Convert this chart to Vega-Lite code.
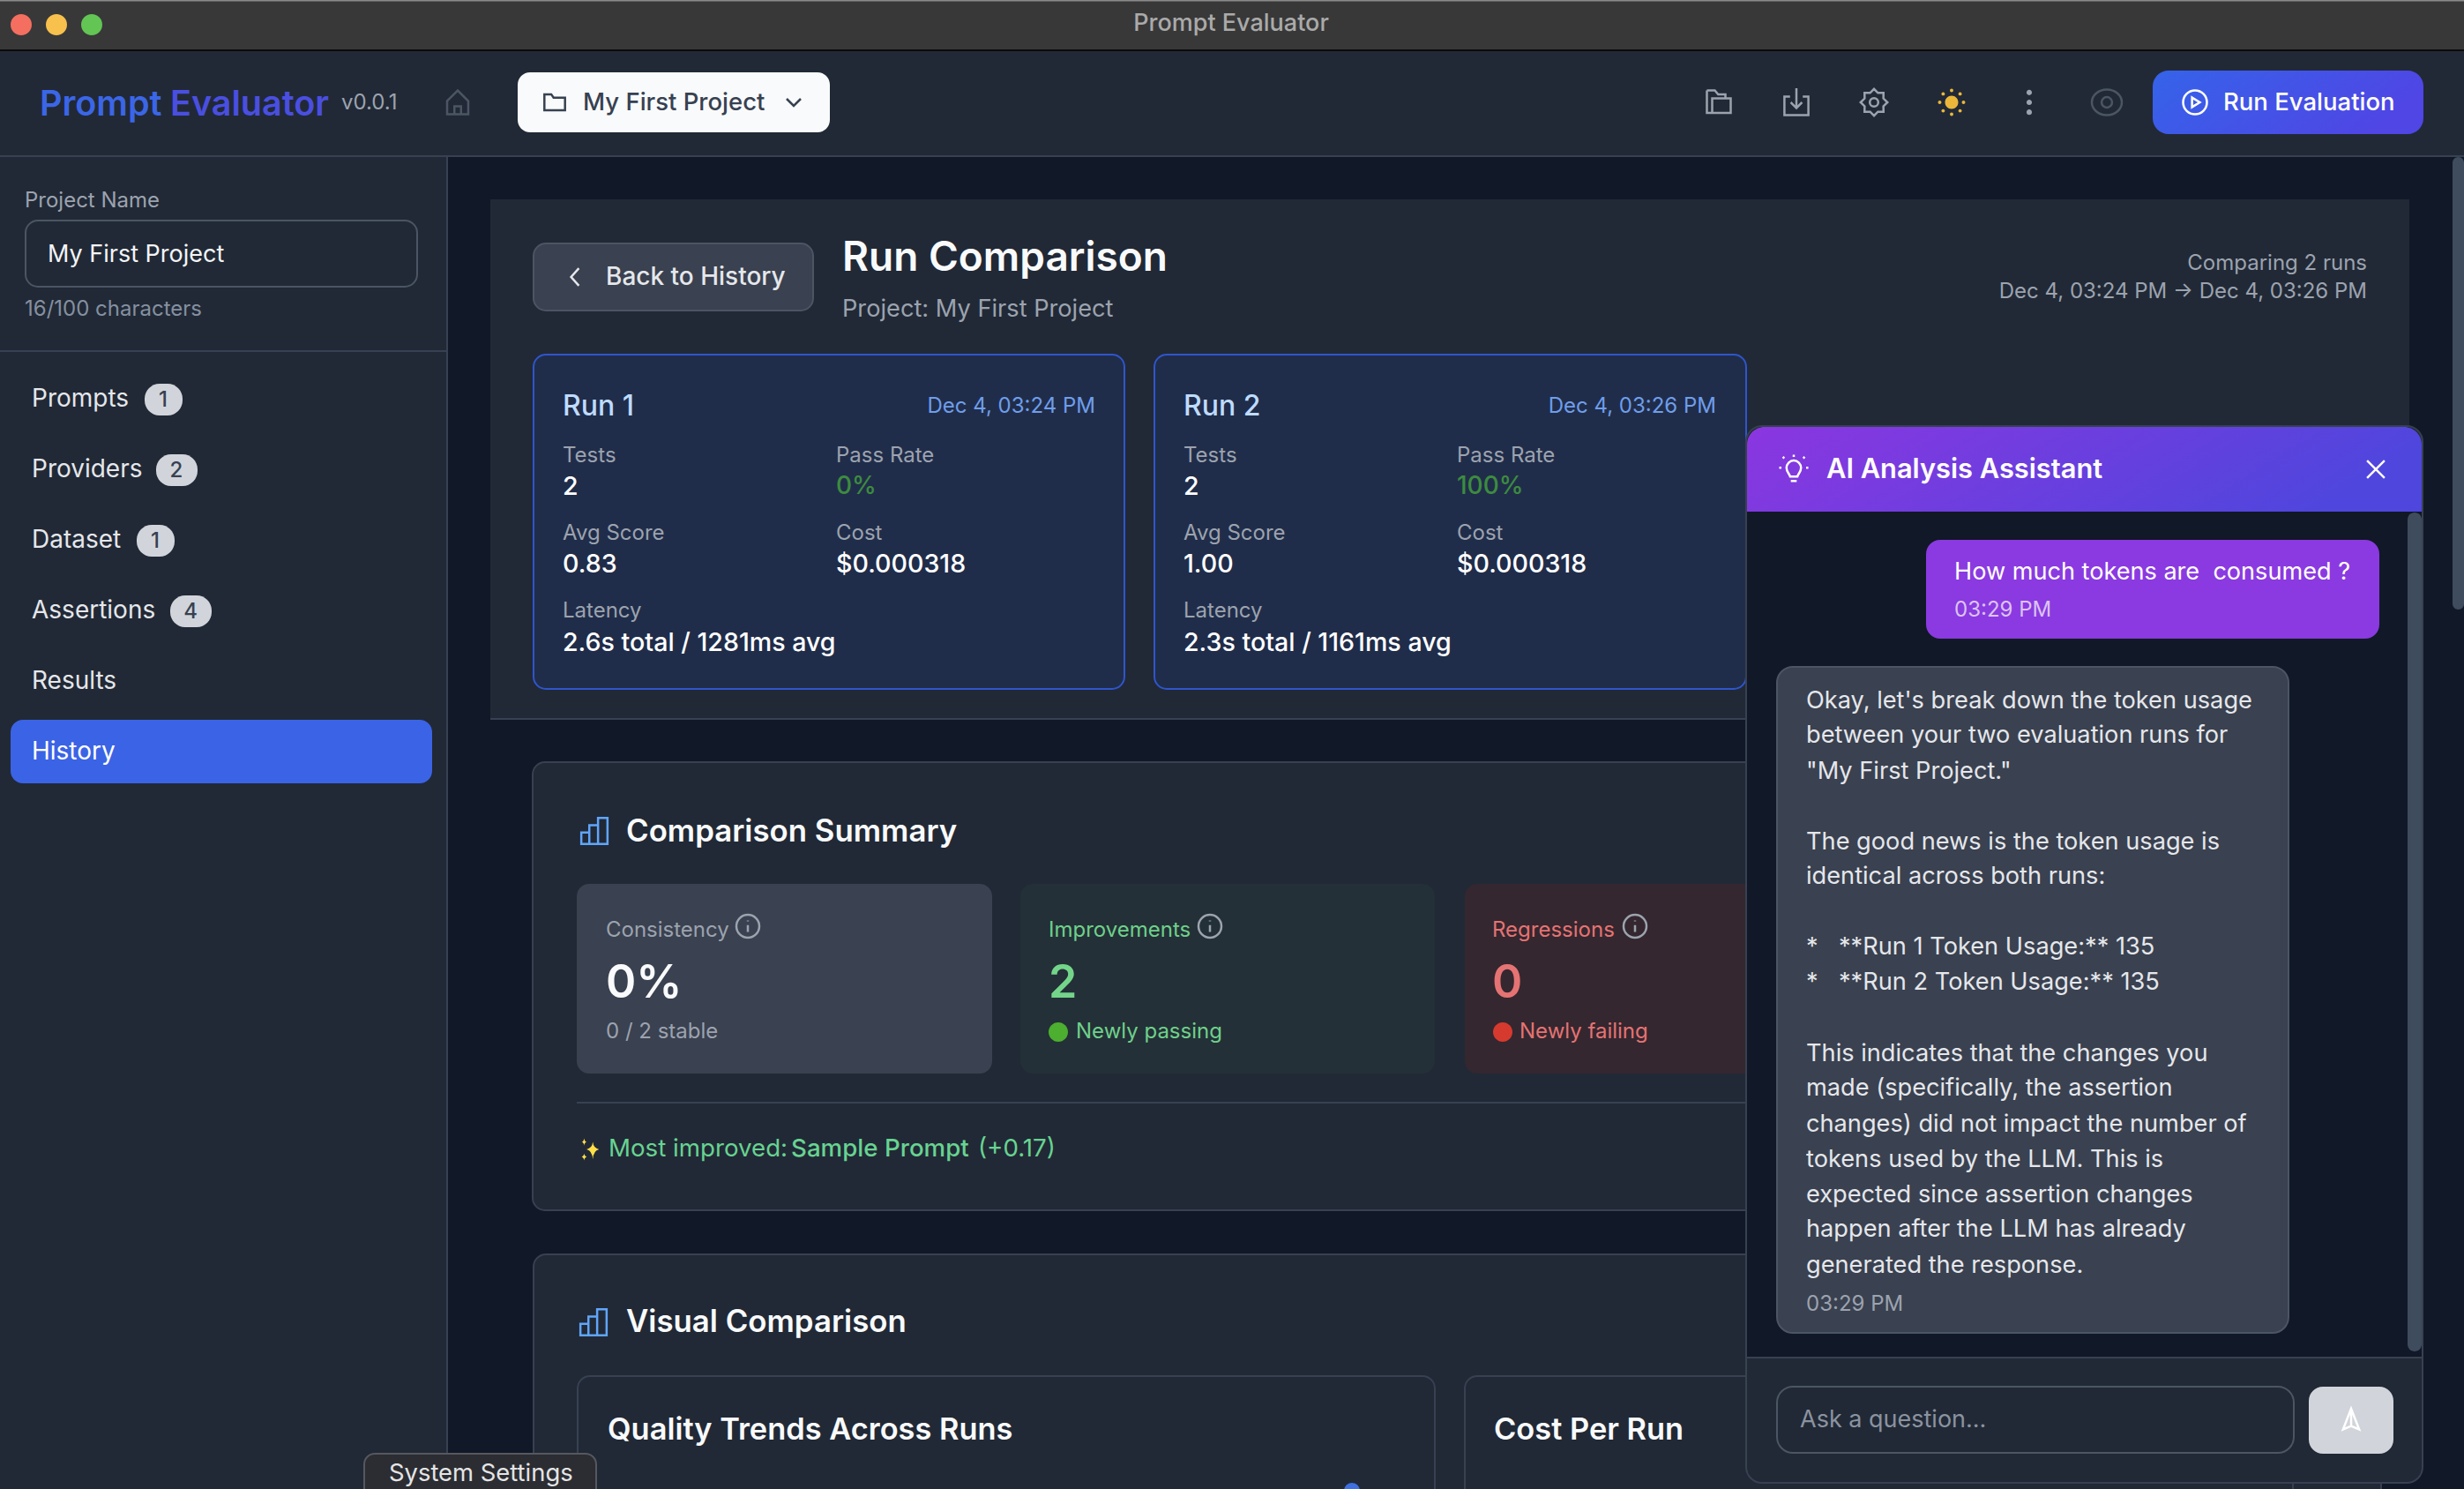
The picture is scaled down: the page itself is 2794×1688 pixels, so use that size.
{
  "$schema": "https://vega.github.io/schema/vega-lite/v6.json",
  "width": 2794,
  "height": 1688,
  "autosize": {"type": "none"},
  "padding": 0,
  "background": "#111827",
  "config": {"view": {"stroke": null}, "text": {"font": "Inter"}},
  "datasets": {
    "base": [
      {"kind": "titlebar", "x": 0, "x2": 2794, "y": 0, "y2": 56},
      {"kind": "titleEdge", "x": 0, "x2": 2794, "y": 0, "y2": 1.5},
      {"kind": "titleline", "x": 0, "x2": 2794, "y": 56, "y2": 58},
      {"kind": "surface", "x": 0, "x2": 2794, "y": 58, "y2": 177},
      {"kind": "border", "x": 0, "x2": 2794, "y": 176, "y2": 178},
      {"kind": "surface", "x": 0, "x2": 506, "y": 178, "y2": 1688},
      {"kind": "border", "x": 506, "x2": 508, "y": 178, "y2": 1688},
      {"kind": "border", "x": 0, "x2": 506, "y": 397, "y2": 399},
      {"kind": "surface", "x": 556, "x2": 2732, "y": 226, "y2": 814},
      {"kind": "border", "x": 556, "x2": 2732, "y": 814, "y2": 816}
    ],
    "cards": [
      {"kind": "white", "x": 587, "x2": 941, "y": 82, "y2": 150},
      {"kind": "active", "x": 12, "x2": 490, "y": 816, "y2": 888},
      {"kind": "raised", "x": 605, "x2": 922, "y": 276, "y2": 352},
      {"kind": "runCard", "x": 605, "x2": 1275, "y": 402, "y2": 781},
      {"kind": "runCard", "x": 1309, "x2": 1980, "y": 402, "y2": 781},
      {"kind": "surface", "x": 604, "x2": 2700, "y": 864, "y2": 1372},
      {"kind": "raised", "x": 654, "x2": 1125, "y": 1002, "y2": 1217},
      {"kind": "goodCard", "x": 1157, "x2": 1627, "y": 1002, "y2": 1217},
      {"kind": "badCard", "x": 1661, "x2": 2100, "y": 1002, "y2": 1217},
      {"kind": "surface", "x": 605, "x2": 2700, "y": 1422, "y2": 1760},
      {"kind": "surface", "x": 655, "x2": 1627, "y": 1560, "y2": 1760},
      {"kind": "surface", "x": 1661, "x2": 2600, "y": 1560, "y2": 1760}
    ],
    "cardLines": [
      {"kind": "lineSoft", "x": 29, "x2": 473, "y": 250, "y2": 325},
      {"kind": "lineSoft", "x": 605, "x2": 922, "y": 276, "y2": 352},
      {"kind": "lineBlue", "x": 605, "x2": 1275, "y": 402, "y2": 781},
      {"kind": "lineBlue", "x": 1309, "x2": 1980, "y": 402, "y2": 781},
      {"kind": "border", "x": 604, "x2": 2700, "y": 864, "y2": 1372},
      {"kind": "border", "x": 605, "x2": 2700, "y": 1422, "y2": 1760},
      {"kind": "border", "x": 655, "x2": 1627, "y": 1560, "y2": 1760},
      {"kind": "border", "x": 1661, "x2": 2600, "y": 1560, "y2": 1760}
    ],
    "dividers": [
      {"kind": "border", "x": 654, "x2": 1980, "y": 1249, "y2": 1251}
    ],
    "pills": [
      {"kind": "badgeFill", "x": 164, "x2": 207, "y": 435, "y2": 471},
      {"kind": "badgeFill", "x": 177, "x2": 224, "y": 515, "y2": 551},
      {"kind": "badgeFill", "x": 155, "x2": 198, "y": 595, "y2": 631},
      {"kind": "badgeFill", "x": 193, "x2": 240, "y": 675, "y2": 711}
    ],
    "runButton": [
      {"x": 2441, "x2": 2748, "y": 80, "y2": 152}
    ],
    "tooltipBox": [
      {"kind": "tooltipFill", "x": 413, "x2": 676, "y": 1648, "y2": 1720}
    ],
    "chatPanel": [
      {"kind": "surface", "x": 1980, "x2": 2747, "y": 483, "y2": 1681}
    ],
    "chatBody": [
      {"kind": "window", "x": 1981, "x2": 2746, "y": 575, "y2": 1538},
      {"kind": "border", "x": 1981, "x2": 2746, "y": 1538, "y2": 1540}
    ],
    "chatHeader": [
      {"x": 1981, "x2": 2746, "y": 484, "y2": 580}
    ],
    "bubbles": [
      {"kind": "userBubble", "x": 2184, "x2": 2698, "y": 612, "y2": 724},
      {"kind": "raised", "x": 2015, "x2": 2595, "y": 756, "y2": 1511},
      {"kind": "badgeFill", "x": 2618, "x2": 2714, "y": 1572, "y2": 1648},
      {"kind": "scrollbar", "x": 2730, "x2": 2746, "y": 581, "y2": 1532},
      {"kind": "scrollbar", "x": 2781, "x2": 2794, "y": 178, "y2": 691}
    ],
    "chatLines": [
      {"kind": "border", "x": 1980, "x2": 2747, "y": 483, "y2": 1681},
      {"kind": "lineSoft", "x": 2015, "x2": 2595, "y": 756, "y2": 1511},
      {"kind": "lineSoft", "x": 2015, "x2": 2601, "y": 1572, "y2": 1647}
    ],
    "textRegular": [
      {"kind": "version", "text": "v0.0.1", "x": 387, "y": 117},
      {"kind": "label", "text": "Project Name", "x": 28, "y": 228},
      {"kind": "field", "text": "My First Project", "x": 54, "y": 289},
      {"kind": "hint", "text": "16/100 characters", "x": 28, "y": 351},
      {"kind": "nav", "text": "Prompts", "x": 36, "y": 453},
      {"kind": "nav", "text": "Providers", "x": 36, "y": 533},
      {"kind": "nav", "text": "Dataset", "x": 36, "y": 613},
      {"kind": "nav", "text": "Assertions", "x": 36, "y": 693},
      {"kind": "nav", "text": "Results", "x": 36, "y": 773},
      {"kind": "navActive", "text": "History", "x": 36, "y": 853},
      {"kind": "subtitle", "text": "Project: My First Project", "x": 955, "y": 351},
      {"kind": "label", "text": "Tests", "x": 638, "y": 517},
      {"kind": "label", "text": "Pass Rate", "x": 948, "y": 517},
      {"kind": "label", "text": "Avg Score", "x": 638, "y": 605},
      {"kind": "label", "text": "Cost", "x": 948, "y": 605},
      {"kind": "label", "text": "Latency", "x": 638, "y": 693},
      {"kind": "label", "text": "Tests", "x": 1342, "y": 517},
      {"kind": "label", "text": "Pass Rate", "x": 1652, "y": 517},
      {"kind": "label", "text": "Avg Score", "x": 1342, "y": 605},
      {"kind": "label", "text": "Cost", "x": 1652, "y": 605},
      {"kind": "label", "text": "Latency", "x": 1342, "y": 693},
      {"kind": "label", "text": "Consistency", "x": 687, "y": 1055},
      {"kind": "label", "text": "0 / 2 stable", "x": 687, "y": 1170},
      {"kind": "good", "text": "Improvements", "x": 1189, "y": 1055},
      {"kind": "good", "text": "Newly passing", "x": 1220, "y": 1170},
      {"kind": "bad", "text": "Regressions", "x": 1692, "y": 1055},
      {"kind": "bad", "text": "Newly failing", "x": 1723, "y": 1170},
      {"kind": "goodLine", "text": "Most improved:", "x": 690, "y": 1303},
      {"kind": "goodLine", "text": "(+0.17)", "x": 1109, "y": 1303},
      {"kind": "tooltipText", "text": "System Settings", "x": 441, "y": 1671},
      {"kind": "message", "text": "How much tokens are \u00a0consumed ?", "x": 2216, "y": 649},
      {"kind": "messageTime", "text": "03:29 PM", "x": 2216, "y": 692},
      {"kind": "reply", "text": "Okay, let's break down the token usage", "x": 2048, "y": 795},
      {"kind": "reply", "text": "between your two evaluation runs for", "x": 2048, "y": 834},
      {"kind": "reply", "text": "\"My First Project.\"", "x": 2048, "y": 875},
      {"kind": "reply", "text": "The good news is the token usage is", "x": 2048, "y": 955},
      {"kind": "reply", "text": "identical across both runs:", "x": 2048, "y": 994},
      {"kind": "reply", "text": "*", "x": 2048, "y": 1074},
      {"kind": "reply", "text": "**Run 1 Token Usage:** 135", "x": 2085, "y": 1074},
      {"kind": "reply", "text": "*", "x": 2048, "y": 1114},
      {"kind": "reply", "text": "**Run 2 Token Usage:** 135", "x": 2085, "y": 1114},
      {"kind": "reply", "text": "This indicates that the changes you", "x": 2048, "y": 1195},
      {"kind": "reply", "text": "made (specifically, the assertion", "x": 2048, "y": 1234},
      {"kind": "reply", "text": "changes) did not impact the number of", "x": 2048, "y": 1275},
      {"kind": "reply", "text": "tokens used by the LLM. This is", "x": 2048, "y": 1315},
      {"kind": "reply", "text": "expected since assertion changes", "x": 2048, "y": 1355},
      {"kind": "reply", "text": "happen after the LLM has already", "x": 2048, "y": 1394},
      {"kind": "reply", "text": "generated the response.", "x": 2048, "y": 1435},
      {"kind": "replyTime", "text": "03:29 PM", "x": 2048, "y": 1479},
      {"kind": "placeholder", "text": "Ask a question...", "x": 2041, "y": 1610}
    ],
    "textMedium": [
      {"kind": "dropdown", "text": "My First Project", "x": 661, "y": 117},
      {"kind": "runLabel", "text": "Run Evaluation", "x": 2521, "y": 117},
      {"kind": "back", "text": "Back to History", "x": 687, "y": 315},
      {"kind": "runTitle", "text": "Run 1", "x": 638, "y": 461},
      {"kind": "runTitle", "text": "Run 2", "x": 1342, "y": 461},
      {"kind": "value", "text": "2", "x": 638, "y": 552},
      {"kind": "pass", "text": "0%", "x": 948, "y": 552},
      {"kind": "value", "text": "0.83", "x": 638, "y": 640},
      {"kind": "value", "text": "$0.000318", "x": 948, "y": 640},
      {"kind": "value", "text": "2.6s total / 1281ms avg", "x": 638, "y": 729},
      {"kind": "value", "text": "2", "x": 1342, "y": 552},
      {"kind": "pass", "text": "100%", "x": 1652, "y": 552},
      {"kind": "value", "text": "1.00", "x": 1342, "y": 640},
      {"kind": "value", "text": "$0.000318", "x": 1652, "y": 640},
      {"kind": "value", "text": "2.3s total / 1161ms avg", "x": 1342, "y": 729},
      {"kind": "goodLine", "text": "Sample Prompt", "x": 897, "y": 1303}
    ],
    "textBold": [
      {"kind": "brandA", "text": "Prompt", "x": 45, "y": 119},
      {"kind": "brandB", "text": "Evaluator", "x": 193, "y": 119},
      {"kind": "pageTitle", "text": "Run Comparison", "x": 955, "y": 293},
      {"kind": "section", "text": "Comparison Summary", "x": 710, "y": 944},
      {"kind": "section", "text": "Visual Comparison", "x": 710, "y": 1500},
      {"kind": "statBig", "text": "0%", "x": 687, "y": 1115},
      {"kind": "goodBig", "text": "2", "x": 1189, "y": 1115},
      {"kind": "badBig", "text": "0", "x": 1692, "y": 1115},
      {"kind": "subhead", "text": "Quality Trends Across Runs", "x": 689, "y": 1622},
      {"kind": "subhead", "text": "Cost Per Run", "x": 1694, "y": 1622},
      {"kind": "chatTitle", "text": "AI Analysis Assistant", "x": 2071, "y": 533}
    ],
    "textRight": [
      {"kind": "label", "text": "Comparing 2 runs", "x": 2684, "y": 299},
      {"kind": "label", "text": "Dec 4, 03:24 PM \u2192 Dec 4, 03:26 PM", "x": 2684, "y": 331},
      {"kind": "runDate", "text": "Dec 4, 03:24 PM", "x": 1242, "y": 461},
      {"kind": "runDate", "text": "Dec 4, 03:26 PM", "x": 1946, "y": 461}
    ],
    "textCenter": [
      {"kind": "appTitle", "text": "Prompt Evaluator", "x": 1396, "y": 27},
      {"kind": "badge", "text": "1", "x": 185, "y": 454},
      {"kind": "badge", "text": "2", "x": 200, "y": 534},
      {"kind": "badge", "text": "1", "x": 176, "y": 614},
      {"kind": "badge", "text": "4", "x": 216, "y": 694}
    ],
    "iconsStroked": [
      {"kind": "home", "x": 519, "y": 116},
      {"kind": "folder", "x": 629, "y": 116},
      {"kind": "chevronDown", "x": 900, "y": 116},
      {"kind": "openFolder", "x": 1949, "y": 116},
      {"kind": "download", "x": 2037, "y": 116},
      {"kind": "gear", "x": 2125, "y": 116},
      {"kind": "eye", "x": 2389, "y": 116},
      {"kind": "playCircle", "x": 2489, "y": 116},
      {"kind": "chevronLeft", "x": 652, "y": 314},
      {"kind": "bars", "x": 674, "y": 942},
      {"kind": "bars", "x": 673, "y": 1499},
      {"kind": "info", "x": 848, "y": 1050},
      {"kind": "info", "x": 1372, "y": 1050},
      {"kind": "info", "x": 1854, "y": 1050},
      {"kind": "bulb", "x": 2034, "y": 532},
      {"kind": "close", "x": 2694, "y": 532},
      {"kind": "send", "x": 2666, "y": 1610}
    ],
    "iconsFilled": [
      {"kind": "lightRed", "x": 24, "y": 28},
      {"kind": "lightYellow", "x": 64, "y": 28},
      {"kind": "lightGreen", "x": 104, "y": 28},
      {"kind": "sun", "x": 2213, "y": 116},
      {"kind": "dots", "x": 2301, "y": 116},
      {"kind": "ballGreen", "x": 1200, "y": 1170},
      {"kind": "ballRed", "x": 1704, "y": 1170},
      {"kind": "sparkle", "x": 668, "y": 1303},
      {"kind": "chartDot", "x": 1533, "y": 1690}
    ]
  },
  "encoding": {
    "x": {"field": "x", "type": "quantitative", "axis": null, "scale": {"domain": [0, 2794], "nice": false, "zero": false}},
    "y": {"field": "y", "type": "quantitative", "axis": null, "scale": {"domain": [1688, 0], "nice": false, "zero": false}},
    "color": {
      "field": "kind",
      "type": "nominal",
      "legend": null,
      "scale": {
        "domain": ["titlebar", "titleline", "surface", "window", "border", "white", "raised", "active", "runCard", "goodCard", "badCard", "lineSoft", "lineBlue", "badgeFill", "tooltipFill", "userBubble", "scrollbar",
          "version", "label", "field", "hint", "nav", "navActive", "subtitle", "good", "bad", "goodLine", "tooltipText", "message", "messageTime", "reply", "replyTime", "placeholder",
          "dropdown", "runLabel", "back", "runTitle", "value", "pass", "brandA", "brandB", "pageTitle", "section", "statBig", "goodBig", "badBig", "subhead", "chatTitle", "runDate", "appTitle", "badge",
          "home", "folder", "chevronDown", "openFolder", "download", "gear", "eye", "playCircle", "chevronLeft", "bars", "info", "bulb", "close", "send",
          "lightRed", "lightYellow", "lightGreen", "sun", "dots", "ballGreen", "ballRed", "sparkle", "chartDot", "titleEdge"],
        "range": ["#383838", "#0b0b0b", "#212936", "#111827", "#374151", "#f9fafb", "#3a4150", "#3b63e5", "#202d4a", "#233037", "#34272f", "#4b5563", "#2f55cc", "#d1d5db", "#2b2d33", "#8a3ae0", "#3f4c5e",
          "#9ca3af", "#9ca3af", "#f3f4f6", "#8590a0", "#e5e7eb", "#ffffff", "#9ca3af", "#6fd08a", "#e57373", "#68d391", "#e5e5e5", "#ffffff", "#dcc3f5", "#e5e7eb", "#9ca3af", "#8b93a0",
          "#374151", "#ffffff", "#e5e7eb", "#bfdbfe", "#ffffff", "#3d8b40", "#3b66e6", "#4a4fe0", "#f9fafb", "#f9fafb", "#f9fafb", "#74d58a", "#e57373", "#f9fafb", "#ffffff", "#6f9eea", "#aaaaaa", "#374151",
          "#4b5563", "#374151", "#374151", "#9ca3af", "#9ca3af", "#9ca3af", "#4b5563", "#ffffff", "#e5e7eb", "#60a5fa", "#9ca3af", "#ffffff", "#ffffff", "#ffffff",
          "#f46f60", "#f8c04c", "#62c554", "#eab73a", "#9ca3af", "#4caf2f", "#d63a2f", "#fde047", "#3f6fe0", "#8a8a8a"]
      }
    },
    "size": {
      "field": "kind",
      "type": "nominal",
      "legend": null,
      "scale": {
        "type": "ordinal",
        "domain": ["version", "label", "field", "hint", "nav", "navActive", "subtitle", "good", "bad", "goodLine", "tooltipText", "message", "messageTime", "reply", "replyTime", "placeholder",
          "dropdown", "runLabel", "back", "runTitle", "value", "pass", "brandA", "brandB", "pageTitle", "section", "statBig", "goodBig", "badBig", "subhead", "chatTitle", "runDate", "appTitle", "badge",
          "home", "folder", "chevronDown", "openFolder", "download", "gear", "eye", "playCircle", "chevronLeft", "bars", "info", "bulb", "close", "send",
          "lightRed", "lightYellow", "lightGreen", "sun", "dots", "ballGreen", "ballRed", "sparkle", "chartDot"],
        "range": [24, 24, 27, 24, 28, 28, 27.2, 24, 24, 27.7, 27.4, 27.1, 24, 27.2, 24, 27,
          27.5, 27.5, 28, 32, 28.6, 28, 39.5, 39.5, 46, 34.8, 52, 52, 52, 34.4, 30.8, 24, 27, 24,
          900, 676, 400, 900, 1024, 1024, 1156, 729, 484, 1089, 676, 1089, 484, 676,
          576, 576, 576, 900, 784, 484, 484, 784, 324]
      }
    }
  },
  "layer": [
    {"data": {"name": "base"}, "mark": "rect", "encoding": {"x2": {"field": "x2"}, "y2": {"field": "y2"}, "size": null}},
    {"data": {"name": "cards"}, "mark": {"type": "rect", "cornerRadius": 14}, "encoding": {"x2": {"field": "x2"}, "y2": {"field": "y2"}, "size": null}},
    {"data": {"name": "cardLines"}, "mark": {"type": "rect", "filled": false, "cornerRadius": 14, "strokeWidth": 2}, "encoding": {"x2": {"field": "x2"}, "y2": {"field": "y2"}, "size": null}},
    {"data": {"name": "dividers"}, "mark": "rect", "encoding": {"x2": {"field": "x2"}, "y2": {"field": "y2"}, "size": null}},
    {"data": {"name": "pills"}, "mark": {"type": "rect", "cornerRadius": 17}, "encoding": {"x2": {"field": "x2"}, "y2": {"field": "y2"}, "size": null}},
    {
      "data": {"name": "runButton"},
      "mark": {"type": "rect", "cornerRadius": 18, "fill": {"gradient": "linear", "x1": 0, "y1": 0, "x2": 1, "y2": 0.3, "stops": [{"offset": 0, "color": "#3563e9"}, {"offset": 1, "color": "#4f46e5"}]}},
      "encoding": {"x2": {"field": "x2"}, "y2": {"field": "y2"}, "size": null, "color": null}
    },
    {"data": {"name": "tooltipBox"}, "mark": {"type": "rect", "cornerRadius": 12, "stroke": "#55585e", "strokeWidth": 2}, "encoding": {"x2": {"field": "x2"}, "y2": {"field": "y2"}, "size": null}},
    {"data": {"name": "chatPanel"}, "mark": {"type": "rect", "cornerRadius": 20}, "encoding": {"x2": {"field": "x2"}, "y2": {"field": "y2"}, "size": null}},
    {"data": {"name": "chatBody"}, "mark": "rect", "encoding": {"x2": {"field": "x2"}, "y2": {"field": "y2"}, "size": null}},
    {
      "data": {"name": "chatHeader"},
      "mark": {"type": "rect", "cornerRadiusTopLeft": 20, "cornerRadiusTopRight": 20, "fill": {"gradient": "linear", "x1": 0, "y1": 0, "x2": 1, "y2": 0.2, "stops": [{"offset": 0, "color": "#8b36e0"}, {"offset": 1, "color": "#4f46dd"}]}},
      "encoding": {"x2": {"field": "x2"}, "y2": {"field": "y2"}, "size": null, "color": null}
    },
    {"data": {"name": "bubbles"}, "mark": {"type": "rect", "cornerRadius": 16}, "encoding": {"x2": {"field": "x2"}, "y2": {"field": "y2"}, "size": null}},
    {"data": {"name": "chatLines"}, "mark": {"type": "rect", "filled": false, "cornerRadius": 18, "strokeWidth": 2}, "encoding": {"x2": {"field": "x2"}, "y2": {"field": "y2"}, "size": null}},
    {"data": {"name": "textRegular"}, "mark": {"type": "text", "align": "left", "baseline": "middle", "font": "Inter", "fontWeight": 400}, "encoding": {"text": {"field": "text"}}},
    {"data": {"name": "textMedium"}, "mark": {"type": "text", "align": "left", "baseline": "middle", "font": "Inter", "fontWeight": 500}, "encoding": {"text": {"field": "text"}}},
    {"data": {"name": "textBold"}, "mark": {"type": "text", "align": "left", "baseline": "middle", "font": "Inter", "fontWeight": 600}, "encoding": {"text": {"field": "text"}}},
    {"data": {"name": "textRight"}, "mark": {"type": "text", "align": "right", "baseline": "middle", "font": "Inter", "fontWeight": 400}, "encoding": {"text": {"field": "text"}}},
    {"data": {"name": "textCenter"}, "mark": {"type": "text", "align": "center", "baseline": "middle", "font": "Inter", "fontWeight": 500}, "encoding": {"text": {"field": "text"}}},
    {
      "data": {"name": "iconsStroked"},
      "mark": {"type": "point", "filled": false, "strokeWidth": 2.5, "opacity": 1},
      "encoding": {
        "shape": {
          "field": "kind",
          "type": "nominal",
          "legend": null,
          "scale": {
            "domain": ["home", "folder", "chevronDown", "openFolder", "download", "gear", "eye", "playCircle", "chevronLeft", "bars", "info", "bulb", "close", "send"],
            "range": [
              "M -0.8 -0.1 L 0 -0.9 L 0.8 -0.1 L 0.8 0.9 L -0.8 0.9 Z M -0.25 0.9 L -0.25 0.3 L 0.25 0.3 L 0.25 0.9",
              "M -0.9 -0.7 L -0.3 -0.7 L -0.1 -0.4 L 0.9 -0.4 L 0.9 0.7 L -0.9 0.7 Z",
              "M -0.8 -0.4 L 0 0.4 L 0.8 -0.4",
              "M -0.9 -0.9 L -0.3 -0.9 L -0.05 -0.6 L 0.5 -0.6 L 0.5 -0.3 M -0.9 -0.9 L -0.9 0.8 L 0.9 0.8 L 0.9 -0.3 L -0.5 -0.3 L -0.5 0.8",
              "M -0.45 -0.4 L -0.85 -0.4 L -0.85 0.9 L 0.85 0.9 L 0.85 -0.4 L 0.45 -0.4 M 0 -1 L 0 0.4 M -0.4 0 L 0 0.4 L 0.4 0",
              "M 0.95 0 L 0.665 0.276 L 0.672 0.672 L 0.276 0.665 L 0 0.95 L -0.276 0.665 L -0.672 0.672 L -0.665 0.276 L -0.95 0 L -0.665 -0.276 L -0.672 -0.672 L -0.276 -0.665 L 0 -0.95 L 0.276 -0.665 L 0.672 -0.672 L 0.665 -0.276 Z M 0.3 0 A 0.3 0.3 0 1 1 -0.3 0 A 0.3 0.3 0 1 1 0.3 0 Z",
              "M 1 0 A 1 0.85 0 1 1 -1 0 A 1 0.85 0 1 1 1 0 Z M 0.35 0 A 0.35 0.35 0 1 1 -0.35 0 A 0.35 0.35 0 1 1 0.35 0 Z",
              "M 1 0 A 1 1 0 1 1 -1 0 A 1 1 0 1 1 1 0 Z M -0.25 -0.4 L 0.4 0 L -0.25 0.4 Z",
              "M 0.4 -0.9 L -0.4 0 L 0.4 0.9",
              "M -0.9 0.9 L -0.9 0.1 L -0.35 0.1 L -0.35 0.9 Z M -0.35 0.9 L -0.35 -0.4 L 0.25 -0.4 L 0.25 0.9 Z M 0.25 0.9 L 0.25 -0.9 L 0.9 -0.9 L 0.9 0.9 Z",
              "M 1 0 A 1 1 0 1 1 -1 0 A 1 1 0 1 1 1 0 Z M 0 -0.1 L 0 0.5 M 0 -0.5 L 0 -0.42",
              "M 0.5 -0.1 A 0.5 0.5 0 1 0 -0.5 -0.1 C -0.5 0.2 -0.3 0.3 -0.25 0.5 L 0.25 0.5 C 0.3 0.3 0.5 0.2 0.5 -0.1 Z M -0.2 0.8 L 0.2 0.8 M 0 -1 L 0 -0.85 M -0.85 -0.1 L -1 -0.1 M 0.85 -0.1 L 1 -0.1 M -0.65 -0.75 L -0.75 -0.85 M 0.65 -0.75 L 0.75 -0.85",
              "M -0.9 -0.9 L 0.9 0.9 M 0.9 -0.9 L -0.9 0.9",
              "M 0 -1 L 0.7 0.8 L 0 0.5 L -0.7 0.8 Z M 0 -1 L 0 0.5"
            ]
          }
        }
      }
    },
    {
      "data": {"name": "iconsFilled"},
      "mark": {"type": "point", "filled": true, "opacity": 1},
      "encoding": {
        "shape": {
          "field": "kind",
          "type": "nominal",
          "legend": null,
          "scale": {
            "domain": ["lightRed", "lightYellow", "lightGreen", "sun", "dots", "ballGreen", "ballRed", "sparkle", "chartDot"],
            "range": [
              "M 1 0 A 1 1 0 1 1 -1 0 A 1 1 0 1 1 1 0 Z",
              "M 1 0 A 1 1 0 1 1 -1 0 A 1 1 0 1 1 1 0 Z",
              "M 1 0 A 1 1 0 1 1 -1 0 A 1 1 0 1 1 1 0 Z",
              "M 0.5 0 A 0.5 0.5 0 1 1 -0.5 0 A 0.5 0.5 0 1 1 0.5 0 Z M 1.03 0 A 0.13 0.13 0 1 1 0.77 0 A 0.13 0.13 0 1 1 1.03 0 Z M -0.77 0 A 0.13 0.13 0 1 1 -1.03 0 A 0.13 0.13 0 1 1 -0.77 0 Z M 0.13 0.9 A 0.13 0.13 0 1 1 -0.13 0.9 A 0.13 0.13 0 1 1 0.13 0.9 Z M 0.13 -0.9 A 0.13 0.13 0 1 1 -0.13 -0.9 A 0.13 0.13 0 1 1 0.13 -0.9 Z M 0.77 0.64 A 0.13 0.13 0 1 1 0.51 0.64 A 0.13 0.13 0 1 1 0.77 0.64 Z M -0.51 0.64 A 0.13 0.13 0 1 1 -0.77 0.64 A 0.13 0.13 0 1 1 -0.51 0.64 Z M 0.77 -0.64 A 0.13 0.13 0 1 1 0.51 -0.64 A 0.13 0.13 0 1 1 0.77 -0.64 Z M -0.51 -0.64 A 0.13 0.13 0 1 1 -0.77 -0.64 A 0.13 0.13 0 1 1 -0.51 -0.64 Z",
              "M 0.22 -0.8 A 0.22 0.22 0 1 1 -0.22 -0.8 A 0.22 0.22 0 1 1 0.22 -0.8 Z M 0.22 0 A 0.22 0.22 0 1 1 -0.22 0 A 0.22 0.22 0 1 1 0.22 0 Z M 0.22 0.8 A 0.22 0.22 0 1 1 -0.22 0.8 A 0.22 0.22 0 1 1 0.22 0.8 Z",
              "M 1 0 A 1 1 0 1 1 -1 0 A 1 1 0 1 1 1 0 Z",
              "M 1 0 A 1 1 0 1 1 -1 0 A 1 1 0 1 1 1 0 Z",
              "M 0.3 -0.6 Q 0.35 -0.1 0.8 0 Q 0.35 0.1 0.3 0.8 Q 0.25 0.1 -0.2 0 Q 0.25 -0.1 0.3 -0.6 Z M -0.4 -0.9 Q -0.37 -0.65 -0.2 -0.6 Q -0.37 -0.55 -0.4 -0.3 Q -0.43 -0.55 -0.6 -0.6 Q -0.43 -0.65 -0.4 -0.9 Z M -0.4 0.35 Q -0.37 0.55 -0.2 0.6 Q -0.37 0.65 -0.4 0.9 Q -0.43 0.65 -0.6 0.6 Q -0.43 0.55 -0.4 0.35 Z",
              "M 1 0 A 1 1 0 1 1 -1 0 A 1 1 0 1 1 1 0 Z"
            ]
          }
        }
      }
    }
  ],
  "resolve": {"scale": {"shape": "independent"}}
}
